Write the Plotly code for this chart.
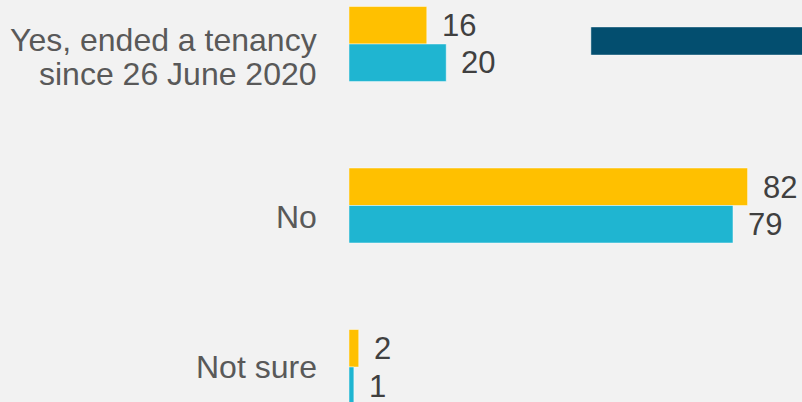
import plotly.graph_objects as go

# Survey responses (%): did the landlord end a tenancy?
categories = ["Yes, ended a tenancy since 26 June 2020", "No", "Not sure"]
label_lines = [["Yes, ended a tenancy", "since 26 June 2020"], ["No"], ["Not sure"]]
wave_a = [16, 82, 2]
wave_b = [20, 79, 1]

YELLOW = "#FFC000"
CYAN = "#1FB5D1"
NAVY = "#034E6F"
BG = "#F2F2F2"
FONT = "Liberation Sans, Arial, sans-serif"

fig = go.Figure()
for vals, col in ((wave_a, YELLOW), (wave_b, CYAN)):
    fig.add_trace(go.Bar(
        y=categories, x=vals, orientation="h",
        marker=dict(color=col, line=dict(color="rgba(255,255,255,0.45)", width=1)),
        showlegend=False, hoverinfo="skip",
    ))

annotations = []
# value labels just beyond the end of each bar
for vals, shift in ((wave_a, 18.5), (wave_b, -19)):
    for cat, v in zip(categories, vals):
        annotations.append(dict(
            x=v, y=cat, xref="x", yref="y", text=str(v), showarrow=False,
            xanchor="left", yanchor="middle", xshift=13, yshift=shift,
            font=dict(family=FONT, size=31, color="#404040"),
        ))

# category labels to the left of the bars
label_shifts = [[4, -30], [-11], [0]]
for cat, lines, shifts in zip(categories, label_lines, label_shifts):
    for line, s in zip(lines, shifts):
        annotations.append(dict(
            x=0, y=cat, xref="x", yref="y", text=line, showarrow=False,
            xanchor="right", yanchor="middle", xshift=-30, yshift=s,
            font=dict(family=FONT, size=32, color="#595959"),
        ))

fig.update_layout(
    width=802, height=402,
    margin=dict(l=349, r=0, t=0, b=0),
    paper_bgcolor=BG, plot_bgcolor=BG,
    barmode="group", bargap=0.536, bargroupgap=0,
    annotations=annotations,
    shapes=[dict(
        type="rect", xref="paper", yref="paper",
        x0=0.534, x1=1.01, y0=0.863, y1=0.933,
        fillcolor=NAVY, line=dict(color="rgba(255,255,255,0.45)", width=1),
        layer="above",
    )],
)
fig.update_xaxes(range=[0, 93.2], visible=False, fixedrange=True)
fig.update_yaxes(
    categoryorder="array", categoryarray=categories,
    range=[2.2167, -0.2724], showticklabels=False, showgrid=False,
    zeroline=False, showline=False, ticks="", fixedrange=True,
)

fig.write_html("out.html")
